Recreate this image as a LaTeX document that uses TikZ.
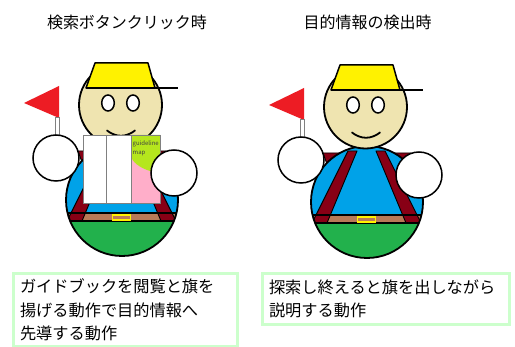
\documentclass[tikz,border=0pt]{standalone}
\usepackage{fontspec}
\setmainfont{Noto Sans CJK JP}

\definecolor{shirt}{HTML}{00A2E8}
\definecolor{pants}{HTML}{22B14C}
\definecolor{beltbrown}{HTML}{B97A57}
\definecolor{strapred}{HTML}{880015}
\definecolor{skin}{HTML}{EFE4B0}
\definecolor{hatyellow}{HTML}{FFF200}
\definecolor{flagred}{HTML}{ED1C24}
\definecolor{pagepink}{HTML}{FFAEC9}
\definecolor{coverlime}{HTML}{B5E61D}
\definecolor{boxgreen}{HTML}{CCFFCC}

% Body of the guide: backpack shoulders, shirt, suspenders, belt, trousers
\newcommand{\guideBody}{%
  \filldraw[strapfill] (323,153) -- (411,153) -- (405,178) -- (332,178) -- cycle;
  \begin{scope}
    \clip (367,202) circle[radius=56pt];
    \fill[shirt] (300,140) rectangle (430,215);
    \fill[beltbrown] (300,215) rectangle (430,223);
    \fill[pants] (300,223) rectangle (430,262);
    \filldraw[strapfill] (348,151) -- (357,151) -- (327,223) -- (312,223) -- cycle;
    \filldraw[strapfill] (376,151) -- (385,151) -- (421,223) -- (406,223) -- cycle;
    \draw[line width=1.5pt] (300,215) -- (430,215);
    \draw[line width=2pt] (300,223) -- (430,223);
    \filldraw[fill=beltbrown,draw=hatyellow,line width=1.5pt] (357.5,216.8) rectangle (375.5,222);
  \end{scope}
  \draw[line width=1.8pt] (367,202) circle[radius=56pt];
}

% Head with hat, eyes and smile
\newcommand{\guideHead}{%
  \filldraw[fill=skin,line width=1.8pt] (365.5,107) circle[radius=41.5pt];
  \filldraw[fill=hatyellow,line width=1.5pt,line join=round]
    (340,65) -- (393,65) -- (400,90) -- (331,90) -- cycle;
  \draw[line width=1.5pt] (331,90) -- (423,90);
  \filldraw[fill=white,line width=1.5pt] (353,105) ellipse[x radius=6.3pt,y radius=8pt];
  \filldraw[fill=white,line width=1.5pt] (378,105) ellipse[x radius=6.3pt,y radius=8pt];
  \draw[line width=1.8pt,line cap=round] (352,132.5) .. controls (361,139.5) and (371,139.5) .. (380,132.5);
}

% Hands and the little flag
\newcommand{\guideHands}{%
  \fill[flagred] (269,105) -- (304,88) -- (304,120) -- cycle;
  \filldraw[fill=white,draw=gray,line width=0.8pt] (300,119.5) rectangle (304,138);
  \filldraw[fill=white,line width=1.5pt] (301,160) circle[radius=23pt];
  \filldraw[fill=white,line width=1.5pt] (419,175) circle[radius=23pt];
}

\begin{document}
\begin{tikzpicture}[x=1pt,y=-1pt,
  strapfill/.style={fill=strapred,draw=black,line width=0.9pt,line join=round},
  title/.style={font=\fontsize{16}{19}\selectfont,inner sep=0pt},
  note/.style={draw=boxgreen,line width=3pt,anchor=north west,align=left,
    inner xsep=7pt,inner ysep=0pt,font=\fontsize{16.2}{23.5}\selectfont},
  bookline/.style={draw=gray,line width=0.8pt},
  booktext/.style={font=\fontsize{6}{7}\selectfont,text=darkgray,anchor=west,inner sep=0pt}]
\useasboundingbox (0,0) rectangle (515,347);
\fill[white] (0,0) rectangle (515,347);

% Titles
\node[title] (titleL) at (127,22) {検索ボタンクリック時};
\node[title] (titleR) at (367.5,22) {目的情報の検出時};

% Guide reading the guidebook
\begin{scope}[shift={(-245,-2)}]
  \guideBody
  \guideHead
\end{scope}
\fill[white] (83,135) rectangle (131,203);
\fill[pagepink] (131,135) rectangle (160,203);
\fill[coverlime] (131,135) -- (160,135) -- (160,172) -- (150,171)
  .. controls (140,168) and (132,162) .. (131,156) -- cycle;
\draw[bookline] (83,135) rectangle (160,203);
\draw[bookline] (106,135) -- (106,203);
\draw[bookline] (131,135) -- (131,203);
\node[booktext] (coverA) at (132.5,143.5) {guideline};
\node[booktext] (coverB) at (132.5,153.5) {map};
\begin{scope}[shift={(-245,-2)}]
  \guideHands
\end{scope}

% Guide explaining
\guideBody
\guideHead
\guideHands

% Captions
\node[note,minimum width=224.5pt,minimum height=73pt,text width=210.5pt] (noteL) at (11.5,272)
  {ガイドブックを閲覧と旗を\\揚げる動作で目的情報へ\\先導する動作};
\node[note,minimum width=247pt,minimum height=51pt,text width=233pt] (noteR) at (260.5,272)
  {探索し終えると旗を出しながら\\説明する動作};
\end{tikzpicture}
\end{document}
